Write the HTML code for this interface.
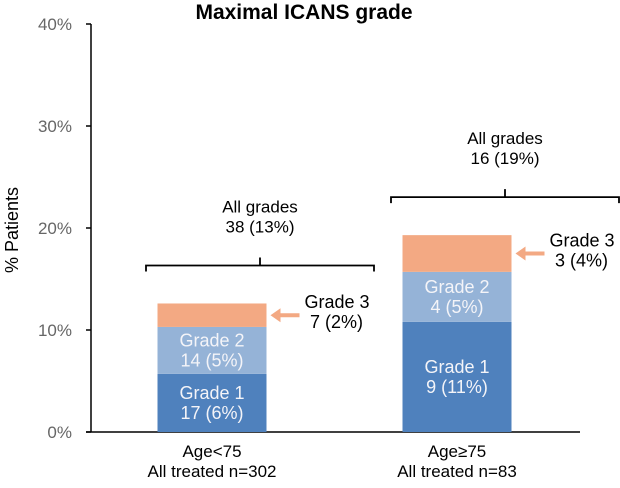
<!DOCTYPE html>
<html><head><meta charset="utf-8"><style>
body{margin:0;background:#fff}
svg{display:block;font-family:"Liberation Sans",sans-serif}
</style></head><body>
<svg id="chart" width="620" height="488">
<text x="304" y="19" text-anchor="middle" font-size="21" font-weight="bold">Maximal ICANS grade</text>
<text transform="translate(18,230) rotate(-90)" text-anchor="middle" font-size="18">% Patients</text>
<g id="axes"></g><g id="bars"></g><g id="ann"></g>
</svg>
<script>
const categories=["Age<75|All treated n=302","Age≥75|All treated n=83"];
const grade1=[5.7,10.8];
const grade2=[4.6,4.9];
const grade3=[2.3,3.6];
const grade1Labels=["17 (6%)","9 (11%)"];
const grade2Labels=["14 (5%)","4 (5%)"];
const grade3Labels=["7 (2%)","3 (4%)"];
const allLabels=["38 (13%)","16 (19%)"];
const yTicks=[0,10,20,30,40];
const NS="http://www.w3.org/2000/svg";
const y0=432,pxPer=10.2,axisX=91,barW=109,centers=[212,457];
function y(v){return y0-v*pxPer;}
function mk(tag,attrs,parent,txt){const e=document.createElementNS(NS,tag);for(const k in attrs)e.setAttribute(k,attrs[k]);if(txt!=null)e.textContent=txt;parent.appendChild(e);return e;}
const ax=document.getElementById('axes'),bg=document.getElementById('bars'),an=document.getElementById('ann');
let l=mk('line',{x1:axisX,y1:y(40),x2:axisX,y2:y0,stroke:'#000','stroke-width':1.5},ax);


l=mk('line',{x1:86,y1:y0,x2:580,y2:y0,stroke:'#000','stroke-width':1.5},ax);


yTicks.forEach(t=>{
 const tk=mk('line',{x1:86,y1:y(t),x2:axisX,y2:y(t),stroke:'#000','stroke-width':1.5},ax);
 
 
 const tl=mk('text',{x:72,y:y(t)+6,'text-anchor':'end','font-size':17,fill:'#666'},ax,t+'%');
 
 
});
const cols=['#4f81bd','#95b3d7','#f3a983'];
categories.forEach((c,i)=>{
 const cx=centers[i],x=cx-barW/2;
 const segs=[grade1[i],grade2[i],grade3[i]];
 let base=0;
 segs.forEach((v,j)=>{
  const r=mk('rect',{x:x,y:y(base+v),width:barW,height:v*pxPer,fill:cols[j]},bg);
  
  
  if(j<2){
   const my=y(base+v/2);
   const labs=[grade1Labels,grade2Labels][j];
   const t1=mk('text',{x:cx,y:my-4,'text-anchor':'middle','font-size':18,fill:'#f4f4f8'},bg,'Grade '+(j+1));
   
   
   const t2=mk('text',{x:cx,y:my+16,'text-anchor':'middle','font-size':18,fill:'#f4f4f8'},bg,labs[i]);
   
   
  }
  base+=v;
 });
 const total=base;
 const ay=y(total-grade3[i]/2);
 const ar=mk('path',{d:`M${x+barW+4} ${ay} l10 -7 v5 h19 v4 h-19 v5 z`,fill:cols[2]},an);
 
 
 const g3=mk('text',{x:x+barW+38,y:ay-7,'font-size':18},an,'Grade 3');
 
 
 const g3v=mk('text',{x:x+barW+70,y:ay+13,'text-anchor':'middle','font-size':18},an,grade3Labels[i]);
 
 
 const by=y(total)-40, bcx=cx+48;
 const br=mk('path',{d:`M${bcx-114} ${by+8} v-6 h114 v-8 v8 h114 v6`,fill:'none',stroke:'#000','stroke-width':1.8},an);
 
 
 const a1=mk('text',{x:bcx,y:by-51,'text-anchor':'middle','font-size':17},an,'All grades');
 
 
 const a2=mk('text',{x:bcx,y:by-31,'text-anchor':'middle','font-size':17},an,allLabels[i]);
 
 
 const parts=c.split('|');
 const x1=mk('text',{x:cx,y:457,'text-anchor':'middle','font-size':17},ax,parts[0]);
 
 
 const x2=mk('text',{x:cx,y:477,'text-anchor':'middle','font-size':17},ax,parts[1]);
 
 
});
</script>
</body></html>
